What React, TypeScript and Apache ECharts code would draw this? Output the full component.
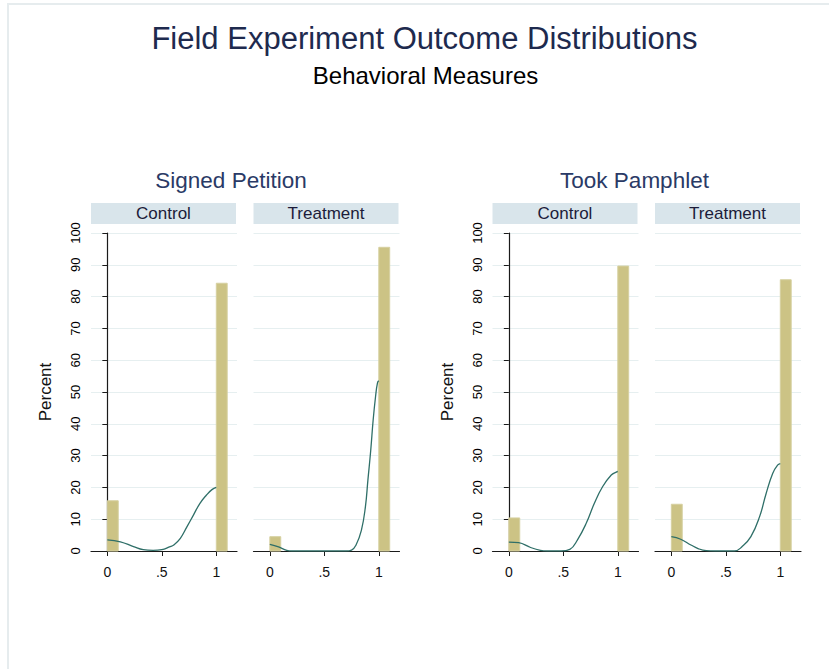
import React, { useEffect, useRef } from "react";
import * as echarts from "echarts";

// ---- Data ----
const mainTitle = "Field Experiment Outcome Distributions";
const subTitle = "Behavioral Measures";
const outcomes = ["Signed Petition", "Took Pamphlet"];
const groups = ["Control", "Treatment"];

const binStarts = [0, 1];
const binWidth = 0.1;
const petitionControlPct = [15.8, 84.2];
const petitionTreatmentPct = [4.5, 95.5];
const pamphletControlPct = [10.4, 89.6];
const pamphletTreatmentPct = [14.7, 85.3];

const petitionControlDensity = [
  [0, 3.5], [0.12, 2.9], [0.24, 1.4], [0.33, 0.4], [0.42, 0.2], [0.5, 0.4],
  [0.57, 1.3], [0.61, 1.9], [0.67, 4.0], [0.73, 7.6], [0.79, 11.3], [0.85, 15.0],
  [0.91, 17.6], [0.96, 19.3], [1, 20.0],
];
const petitionTreatmentDensity = [
  [0, 2.1], [0.08, 1.3], [0.155, 0.2], [0.2, 0], [0.7, 0], [0.75, 0.3],
  [0.79, 1.8], [0.84, 6.5], [0.877, 13.9], [0.9, 22.3], [0.926, 31.7],
  [0.948, 41.1], [0.97, 48.5], [0.988, 52.9], [1, 53.5],
];
const pamphletControlDensity = [
  [0, 2.8], [0.09, 2.6], [0.2, 1.1], [0.29, 0.2], [0.35, 0], [0.48, 0],
  [0.56, 0.5], [0.63, 3.5], [0.71, 8.7], [0.785, 15.0], [0.86, 20.2],
  [0.94, 23.9], [0.99, 24.9], [1, 25.0],
];
const pamphletTreatmentDensity = [
  [0, 4.5], [0.086, 3.7], [0.18, 1.9], [0.25, 0.7], [0.32, 0.1], [0.4, 0],
  [0.58, 0], [0.65, 1.4], [0.73, 4.5], [0.81, 10.8], [0.87, 18.1],
  [0.93, 24.4], [0.975, 27.0], [1, 27.5],
];

const xTickValues = [0, 0.5, 1];
const xTickLabels = ["0", ".5", "1"];
const yMin = 0;
const yMax = 100;
const yStep = 10;
const yAxisName = "Percent";

// ---- Styling / layout ----
const FONT = '"Liberation Sans", Arial, Helvetica, sans-serif';
const BAR_FILL = "#ccc385";
const BAR_STROKE = "#d6d0a0";
const LINE_COLOR = "#2f6f68";
const GRID_COLOR = "#e6eff0";
const AXIS_COLOR = "#1a1a1a";
const STRIP_COLOR = "#d9e5eb";

const PANEL_LEFTS = [91, 253.5, 492.5, 655];
const PANEL_WIDTH = 146;
const PANEL_TOP = 233;
const PANEL_HEIGHT = 318;
const X_MIN = -0.15;
const X_MAX = 1.19;

export default function App() {
  const ref = useRef<HTMLDivElement>(null);

  useEffect(() => {
    if (!ref.current) return;
    const chart = echarts.init(ref.current, undefined, { renderer: "svg" });

    const panels = [
      { pct: petitionControlPct, dens: petitionControlDensity, showY: true },
      { pct: petitionTreatmentPct, dens: petitionTreatmentDensity, showY: false },
      { pct: pamphletControlPct, dens: pamphletControlDensity, showY: true },
      { pct: pamphletTreatmentPct, dens: pamphletTreatmentDensity, showY: false },
    ];

    const grid = panels.map((_, i) => ({
      left: PANEL_LEFTS[i],
      top: PANEL_TOP,
      width: PANEL_WIDTH,
      height: PANEL_HEIGHT,
      containLabel: false,
    }));

    const xAxis = panels.map((_, i) => ({
      type: "value",
      gridIndex: i,
      min: X_MIN,
      max: X_MAX,
      axisLine: { show: true, onZero: false, lineStyle: { color: AXIS_COLOR, width: 1.2 } },
      axisTick: {
        show: true,
        customValues: xTickValues,
        length: 5,
        lineStyle: { color: AXIS_COLOR, width: 1 },
      },
      axisLabel: {
        show: true,
        customValues: xTickValues,
        formatter: (v: number) => {
          const k = xTickValues.findIndex((t) => Math.abs(t - v) < 1e-9);
          return k >= 0 ? xTickLabels[k] : "";
        },
        margin: 14,
        fontSize: 14,
        fontFamily: FONT,
        color: "#111",
      },
      splitLine: { show: false },
    }));

    const yAxis = panels.map((p, i) => ({
      type: "value",
      gridIndex: i,
      min: yMin,
      max: yMax,
      interval: yStep,
      name: p.showY ? yAxisName : "",
      nameLocation: "middle",
      nameRotate: 90,
      nameGap: 37,
      nameTextStyle: { fontSize: 17, fontFamily: FONT, color: "#111" },
      axisLine: { show: p.showY, lineStyle: { color: AXIS_COLOR, width: 1.2 } },
      axisTick: { show: p.showY, length: 5, lineStyle: { color: AXIS_COLOR, width: 1 } },
      axisLabel: {
        show: p.showY,
        rotate: 90,
        margin: 9,
        fontSize: 13,
        fontFamily: FONT,
        color: "#000",
      },
      splitLine: { show: true, lineStyle: { color: GRID_COLOR, width: 1 } },
    }));

    const series: any[] = [];
    panels.forEach((p, i) => {
      series.push({
        type: "custom",
        xAxisIndex: i,
        yAxisIndex: i,
        data: binStarts.map((b, k) => [b, p.pct[k]]),
        renderItem: (params: any, api: any) => {
          const x0 = api.value(0);
          const h = api.value(1);
          const p0 = api.coord([x0, 0]);
          const p1 = api.coord([x0 + binWidth, h]);
          return {
            type: "rect",
            shape: { x: p0[0], y: p1[1], width: p1[0] - p0[0], height: p0[1] - p1[1] },
            style: { fill: BAR_FILL, stroke: BAR_STROKE, lineWidth: 1 },
          };
        },
        z: 2,
      });
      series.push({
        type: "line",
        xAxisIndex: i,
        yAxisIndex: i,
        data: p.dens,
        showSymbol: false,
        symbol: "none",
        smooth: 0.45,
        clip: true,
        lineStyle: { color: LINE_COLOR, width: 1.3 },
        z: 3,
      });
    });

    const graphic: any[] = [
      // frame
      { type: "line", shape: { x1: 7, y1: 4, x2: 829, y2: 4 }, style: { stroke: "#e6ecee", lineWidth: 2 } },
      { type: "line", shape: { x1: 8, y1: 4, x2: 8, y2: 669 }, style: { stroke: "#e6ecee", lineWidth: 2 } },
      {
        type: "text",
        x: 424.5,
        y: 38,
        style: {
          text: mainTitle,
          fontSize: 31,
          fontFamily: FONT,
          fill: "#1e2a4e",
          align: "center",
          verticalAlign: "middle",
        },
      },
      {
        type: "text",
        x: 425.5,
        y: 75,
        style: {
          text: subTitle,
          fontSize: 24,
          fontFamily: FONT,
          fill: "#000",
          align: "center",
          verticalAlign: "middle",
        },
      },
    ];
    const outcomeCenters = [231, 634.5];
    outcomes.forEach((o, k) => {
      graphic.push({
        type: "text",
        x: outcomeCenters[k],
        y: 180,
        style: {
          text: o,
          fontSize: 22.5,
          fontFamily: FONT,
          fill: "#2a3a66",
          align: "center",
          verticalAlign: "middle",
        },
      });
    });
    PANEL_LEFTS.forEach((l, i) => {
      graphic.push({
        type: "rect",
        shape: { x: l, y: 203, width: PANEL_WIDTH - 1, height: 21 },
        style: { fill: STRIP_COLOR },
      });
      graphic.push({
        type: "text",
        x: l + (PANEL_WIDTH - 1) / 2,
        y: 213.5,
        style: {
          text: groups[i % 2],
          fontSize: 17,
          fontFamily: FONT,
          fill: "#1c1c3a",
          align: "center",
          verticalAlign: "middle",
        },
      });
    });

    chart.setOption({
      animation: false,
      backgroundColor: "#ffffff",
      grid,
      xAxis,
      yAxis,
      series,
      graphic,
    } as any);

    return () => chart.dispose();
  }, []);

  return (
    <div
      ref={ref}
      style={{ position: "fixed", left: 0, top: 0, width: 829, height: 669, background: "#fff" }}
    />
  );
}
